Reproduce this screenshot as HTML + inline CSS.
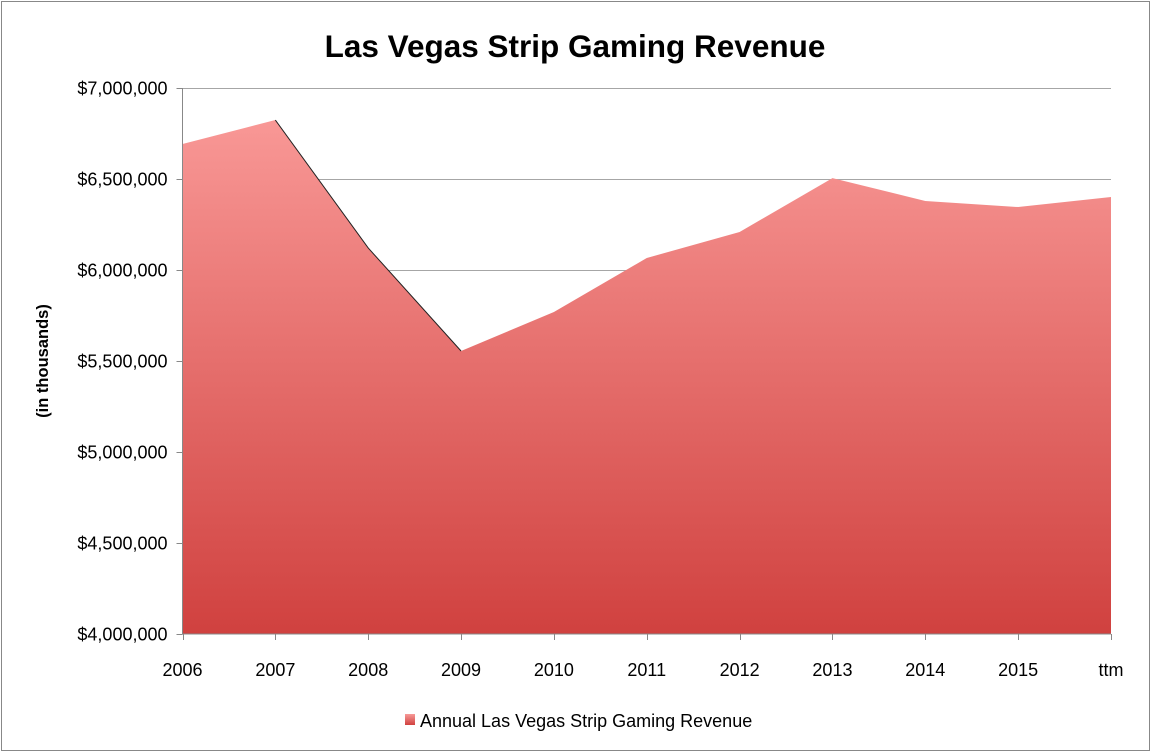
<!DOCTYPE html>
<html><head><meta charset="utf-8"><style>
html,body{margin:0;padding:0;background:#fff;}
svg{display:block;font-family:"Liberation Sans",sans-serif;}
</style></head><body>
<svg id="chart" width="1151" height="753">
<defs><linearGradient id="g" x1="0" y1="88" x2="0" y2="634" gradientUnits="userSpaceOnUse">
<stop offset="0" stop-color="#fb9d9b"/><stop offset="1" stop-color="#d0413f"/></linearGradient>
<linearGradient id="lg" x1="0" y1="0" x2="0" y2="1"><stop offset="0" stop-color="#f79a98"/><stop offset="1" stop-color="#d0413f"/></linearGradient></defs>
<rect x="1.5" y="1.5" width="1148" height="749" fill="#fff" stroke="#888"/>
<text x="575" y="57" text-anchor="middle" font-size="31.5" font-weight="bold" fill="#000">Las Vegas Strip Gaming Revenue</text>
<text transform="translate(48,361) rotate(-90)" text-anchor="middle" font-size="16.5" font-weight="bold">(in thousands)</text>
<g id="grid"></g><g id="area"></g><g id="axes"></g>
<rect x="405" y="714" width="10" height="11" fill="url(#lg)"/>
<text x="420" y="727" font-size="18">Annual Las Vegas Strip Gaming Revenue</text>
</svg>
<script>
const categories=["2006","2007","2008","2009","2010","2011","2012","2013","2014","2015","ttm"];
const revenue=[6692000,6824000,6121000,5555000,5769000,6066000,6209000,6505000,6379000,6346000,6401000];
const yTicks=[4000000,4500000,5000000,5500000,6000000,6500000,7000000];
const yTickLabels=["$4,000,000","$4,500,000","$5,000,000","$5,500,000","$6,000,000","$6,500,000","$7,000,000"];
const NS="http://www.w3.org/2000/svg";
const X0=182.5,X1=1111,Y0=634,Y1=88,vmin=4000000,vmax=7000000;
const xs=i=>X0+(X1-X0)*i/(categories.length-1);
const ys=v=>Y0-(v-vmin)/(vmax-vmin)*(Y0-Y1);
function mk(t,a,p){const e=document.createElementNS(NS,t);for(const k in a)e.setAttribute(k,a[k]);p.appendChild(e);return e;}
const grid=document.getElementById('grid'),axes=document.getElementById('axes'),area=document.getElementById('area');
yTicks.forEach((v,i)=>{
 const y=Math.round(ys(v))+0.5;
 if(i>0){const l=mk('line',{x1:X0,x2:X1,y1:y,y2:y,stroke:'#a6a6a6','stroke-width':1},grid);
 
 }
 mk('line',{x1:X0-6,x2:X0,y1:y,y2:y,stroke:'#888'},axes);
 const t=mk('text',{x:X0-15,y:y+6,'text-anchor':'end','font-size':18},axes);t.textContent=yTickLabels[i];
 
 
});
let d='M'+xs(0)+','+Y0;
revenue.forEach((v,i)=>{d+=' L'+xs(i)+','+ys(v);});
d+=' L'+xs(revenue.length-1)+','+Y0+' Z';
const p=mk('path',{d:d,fill:'url(#g)'},area);


const ol=mk('polyline',{points:[1,2,3].map(i=>xs(i)+','+ys(revenue[i])).join(' '),fill:'none',stroke:'#222','stroke-width':1},area);


mk('line',{x1:X0,x2:X0,y1:Y1,y2:Y0,stroke:'#888'},axes);
mk('line',{x1:X0,x2:X1,y1:Y0,y2:Y0,stroke:'#888'},axes);
categories.forEach((c,i)=>{
 const x=Math.round(xs(i))+0.5;
 mk('line',{x1:x,x2:x,y1:Y0,y2:Y0+6,stroke:'#888'},axes);
 const t=mk('text',{x:xs(i),y:676,'text-anchor':'middle','font-size':18},axes);t.textContent=c;
 
 
});
</script>
</body></html>
